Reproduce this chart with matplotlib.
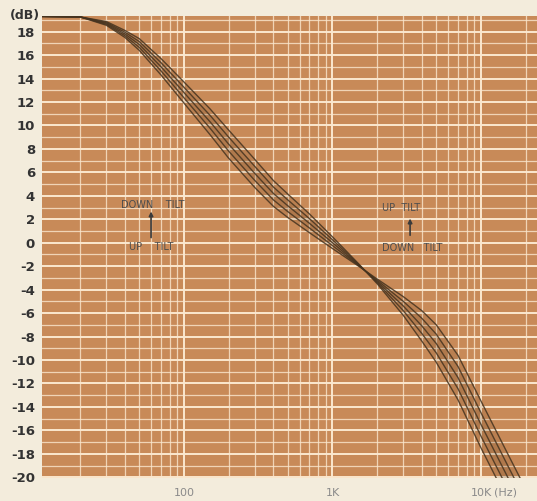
import matplotlib.pyplot as plt
import matplotlib.ticker as ticker

# frequency points (Hz)
freq = [10, 20, 30, 40, 50, 70, 100, 150, 200, 300, 400, 500, 700,
        1000, 1500, 2000, 3000, 4000, 5000, 7000, 10000, 15000, 20000]

# five tilt curves, dB, from "down tilt" (most bass) to "up tilt"
tilt_down2 = [19.3, 19.25, 18.86, 18.1, 17.4, 15.7, 13.7, 11.4, 9.6, 7.1, 5.3, 4.15, 2.45,
              0.5, -1.8, -3.5, -6.2, -8.4, -10.2, -13.4, -17.5, -21.9, -25.0]
tilt_down1 = [19.3, 19.25, 18.78, 17.95, 17.15, 15.35, 13.25, 10.85, 9.0, 6.5, 4.75, 3.65, 2.05,
              0.25, -1.85, -3.4, -5.8, -7.75, -9.4, -12.45, -16.5, -20.9, -24.0]
tilt_flat = [19.3, 19.25, 18.7, 17.8, 16.9, 15.0, 12.8, 10.3, 8.4, 5.9, 4.2, 3.15, 1.65,
             0.0, -1.9, -3.3, -5.4, -7.1, -8.6, -11.5, -15.5, -19.9, -23.0]
tilt_up1 = [19.3, 19.25, 18.62, 17.65, 16.65, 14.65, 12.35, 9.75, 7.8, 5.3, 3.65, 2.65, 1.25,
            -0.25, -1.95, -3.2, -5.0, -6.45, -7.8, -10.55, -14.5, -18.9, -22.0]
tilt_up2 = [19.3, 19.25, 18.54, 17.5, 16.4, 14.3, 11.9, 9.2, 7.2, 4.7, 3.1, 2.15, 0.85,
            -0.5, -2.0, -3.1, -4.6, -5.8, -7.0, -9.6, -13.5, -17.9, -21.0]

curves = [tilt_down2, tilt_down1, tilt_flat, tilt_up1, tilt_up2]

y_ticks = list(range(-20, 19, 2))
x_ticks = [100, 1000, 10000]
x_labels = ['100', '1K', '10K']

bg = '#f3ecdc'
paper = '#c88a58'
grid_col = '#fbe8cf'
ink = '#45331f'

fig = plt.figure(figsize=(5.37, 5.01), dpi=100, facecolor=bg)
ax = fig.add_axes([42 / 537, 1 - 478 / 501, (537 - 42) / 537, (478 - 16) / 501])
ax.set_facecolor(paper)

ax.set_xscale('log')
ax.set_xlim(11.06, 23830)
ax.set_ylim(-20.06, 19.33)

# graph paper grid
ax.xaxis.set_major_locator(ticker.FixedLocator(x_ticks))
ax.xaxis.set_minor_locator(ticker.LogLocator(base=10, subs=range(1, 10), numticks=20))
ax.yaxis.set_major_locator(ticker.FixedLocator(y_ticks))
ax.yaxis.set_minor_locator(ticker.MultipleLocator(1))
ax.grid(which='major', color=grid_col, lw=1.4)
ax.grid(which='minor', color=grid_col, lw=0.9, alpha=0.8)
ax.set_axisbelow(True)

ax.fill_between(freq, tilt_down2, tilt_up2, color='#5a3c22', alpha=0.12, lw=0)
ax.fill_between(freq, tilt_down1, tilt_up1, color='#5a3c22', alpha=0.1, lw=0)
for c in curves:
    ax.plot(freq, c, color=ink, lw=1.0, alpha=0.85,
            solid_joinstyle='round', solid_capstyle='round')

for s in ax.spines.values():
    s.set_visible(False)
ax.tick_params(which='both', length=0)

ax.set_yticks(y_ticks)
ax.set_yticklabels([str(v) for v in y_ticks], fontsize=9.5, fontweight='bold', color='#333333')
ax.tick_params(axis='y', pad=5)
ax.set_xticks(x_ticks)
ax.set_xticklabels(x_labels, fontsize=8, color='#8a8a8a')
ax.tick_params(axis='x', pad=7)
ax.text(10000 * 1.22, -21.3, '(Hz)', fontsize=8, color='#8a8a8a', ha='left', va='center')
ax.text(-0.005, 1.0, '(dB)', transform=ax.transAxes, fontsize=9, fontweight='bold',
        color='#333333', ha='right', va='center')

# tilt annotations
txt = dict(fontsize=7, color='#4d4d4d', ha='center', va='center')
ax.text(62, 3.2, 'DOWN    TILT', **txt)
ax.text(60, -0.4, 'UP    TILT', **txt)
ax.annotate('', xy=(60, 2.9), xytext=(60, 0.2),
            arrowprops=dict(arrowstyle='-|>', color='#3a3a3a', lw=1.2, mutation_scale=6))
ax.text(2900, 3.0, 'UP  TILT', **txt)
ax.text(3450, -0.45, 'DOWN   TILT', **txt)
ax.annotate('', xy=(3330, 2.3), xytext=(3330, 0.4),
            arrowprops=dict(arrowstyle='-|>', color='#3a3a3a', lw=1.2, mutation_scale=6))

plt.savefig('out.png', dpi=100, facecolor=bg)
